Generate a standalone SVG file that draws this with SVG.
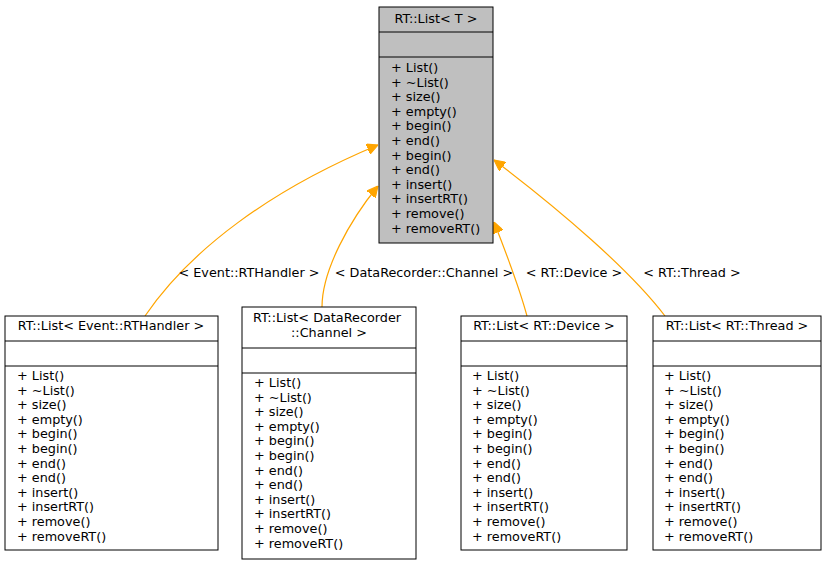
<svg xmlns="http://www.w3.org/2000/svg" width="826" height="565" viewBox="0 0 826 565">
<style>
text{font-family:"DejaVu Sans",sans-serif;font-size:12.8px;fill:#000}
.b{fill:#fff;stroke:#000;stroke-width:1}
.g{fill:#bfbfbf;stroke:#000;stroke-width:1}
.e{fill:none;stroke:#ffa500;stroke-width:1.2}
.c{text-anchor:middle}
</style>
<defs><marker id="a" viewBox="0 0 10 10" refX="10" refY="5" markerWidth="11" markerHeight="11" markerUnits="userSpaceOnUse" orient="auto"><path d="M0,0L10,5L0,10z" fill="#ffa500" stroke="#ffa500"/></marker></defs>
<rect width="826" height="565" fill="#fff"/>
<g id="connectors">
<path class="e" d="M145,316C190,250 270,190 378,145" marker-end="url(#a)"/>
<path class="e" d="M322,307C322,270 350,220 378,186" marker-end="url(#a)"/>
<path class="e" d="M527,316C520,290 505,250 494,222" marker-end="url(#a)"/>
<path class="e" d="M665,316C630,270 560,210 494,160" marker-end="url(#a)"/>
<text class="c" x="249" y="277">&lt; Event::RTHandler &gt;</text>
<text class="c" x="424" y="277">&lt; DataRecorder::Channel &gt;</text>
<text class="c" x="574" y="277">&lt; RT::Device &gt;</text>
<text class="c" x="692" y="277">&lt; RT::Thread &gt;</text>
</g>
<g id="top">
<rect class="g" x="379" y="7" width="114" height="236"/>
<line x1="379" y1="32" x2="493" y2="32" stroke="#000"/>
<line x1="379" y1="57" x2="493" y2="57" stroke="#000"/>
<text class="c" x="436" y="23">RT::List&lt; T &gt;</text>
<g transform="translate(391,72)"><text y="0">+ List()</text><text y="14.6">+ ~List()</text><text y="29.2">+ size()</text><text y="43.8">+ empty()</text><text y="58.4">+ begin()</text><text y="73">+ end()</text><text y="87.6">+ begin()</text><text y="102.2">+ end()</text><text y="116.8">+ insert()</text><text y="131.4">+ insertRT()</text><text y="146">+ remove()</text><text y="160.6">+ removeRT()</text></g>
</g>
<g id="n1">
<rect class="b" x="5" y="316" width="213" height="234"/>
<line x1="5" y1="341" x2="218" y2="341" stroke="#000"/><line x1="5" y1="366" x2="218" y2="366" stroke="#000"/>
<text class="c" x="111" y="330">RT::List&lt; Event::RTHandler &gt;</text>
<g transform="translate(17,380)"><text y="0">+ List()</text><text y="14.6">+ ~List()</text><text y="29.2">+ size()</text><text y="43.8">+ empty()</text><text y="58.4">+ begin()</text><text y="73">+ begin()</text><text y="87.6">+ end()</text><text y="102.2">+ end()</text><text y="116.8">+ insert()</text><text y="131.4">+ insertRT()</text><text y="146">+ remove()</text><text y="160.6">+ removeRT()</text></g>
</g>
<g id="n2">
<rect class="b" x="242" y="307" width="174" height="252"/>
<line x1="242" y1="348" x2="416" y2="348" stroke="#000"/><line x1="242" y1="373" x2="416" y2="373" stroke="#000"/>
<text x="253" y="322">RT::List&lt; DataRecorder</text>
<text class="c" x="329" y="337">::Channel &gt;</text>
<g transform="translate(254,387)"><text y="0">+ List()</text><text y="14.6">+ ~List()</text><text y="29.2">+ size()</text><text y="43.8">+ empty()</text><text y="58.4">+ begin()</text><text y="73">+ begin()</text><text y="87.6">+ end()</text><text y="102.2">+ end()</text><text y="116.8">+ insert()</text><text y="131.4">+ insertRT()</text><text y="146">+ remove()</text><text y="160.6">+ removeRT()</text></g>
</g>
<g id="n3">
<rect class="b" x="461" y="316" width="166" height="234"/>
<line x1="461" y1="341" x2="627" y2="341" stroke="#000"/><line x1="461" y1="366" x2="627" y2="366" stroke="#000"/>
<text class="c" x="544" y="330">RT::List&lt; RT::Device &gt;</text>
<g transform="translate(472,380)"><text y="0">+ List()</text><text y="14.6">+ ~List()</text><text y="29.2">+ size()</text><text y="43.8">+ empty()</text><text y="58.4">+ begin()</text><text y="73">+ begin()</text><text y="87.6">+ end()</text><text y="102.2">+ end()</text><text y="116.8">+ insert()</text><text y="131.4">+ insertRT()</text><text y="146">+ remove()</text><text y="160.6">+ removeRT()</text></g>
</g>
<g id="n4">
<rect class="b" x="653" y="316" width="168" height="234"/>
<line x1="653" y1="341" x2="821" y2="341" stroke="#000"/><line x1="653" y1="366" x2="821" y2="366" stroke="#000"/>
<text class="c" x="737" y="330">RT::List&lt; RT::Thread &gt;</text>
<g transform="translate(664,380)"><text y="0">+ List()</text><text y="14.6">+ ~List()</text><text y="29.2">+ size()</text><text y="43.8">+ empty()</text><text y="58.4">+ begin()</text><text y="73">+ begin()</text><text y="87.6">+ end()</text><text y="102.2">+ end()</text><text y="116.8">+ insert()</text><text y="131.4">+ insertRT()</text><text y="146">+ remove()</text><text y="160.6">+ removeRT()</text></g>
</g>
</svg>
